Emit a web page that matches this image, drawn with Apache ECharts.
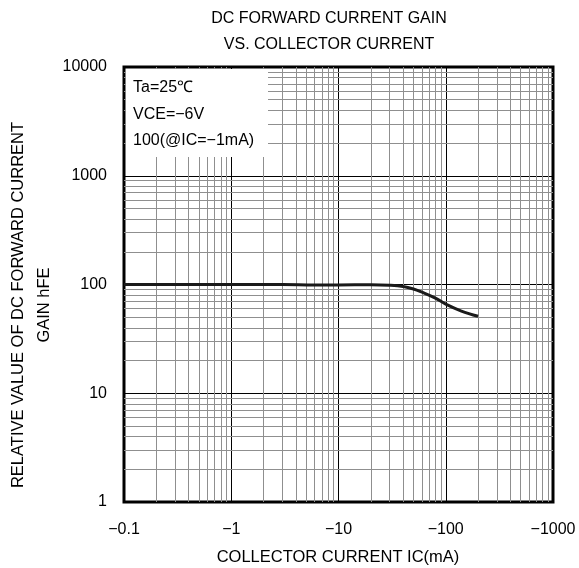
<!DOCTYPE html>
<html>
<head>
<meta charset="utf-8">
<script src="https://cdn.jsdelivr.net/npm/echarts@6/dist/echarts.min.js"></script>
<style>
  html, body { margin: 0; padding: 0; background: #fff; }
  #main { width: 579px; height: 568px; }
</style>
</head>
<body>
<div id="main"></div>
<script>
// collector current (mA, shown as negative) vs hFE
const icValues = [0.1, 0.3, 1, 3, 6, 10, 20, 30, 40, 50, 60, 80, 100, 140, 200];
const hfeValues = [100, 100, 100, 100, 99, 99, 99.5, 98.5, 96, 91, 85, 75, 66, 57, 51];

const xTicks = [0.1, 1, 10, 100, 1000];
const yTicks = [1, 10, 100, 1000, 10000];
const minorSteps = [2, 3, 4, 5, 6, 7, 8, 9];

const noteLines = ['Ta=25\u2103', 'VCE=\u22126V', '100(@IC=\u22121mA)'];

const font = 'Liberation Sans, Arial, sans-serif';

// minor grid lines (2..9 in each decade)
const minorX = [];
xTicks.slice(0, -1).forEach(d => minorSteps.forEach(k => minorX.push({ xAxis: d * k })));
const minorY = [];
yTicks.slice(0, -1).forEach(d => minorSteps.forEach(k => minorY.push({ yAxis: d * k })));

let option = {
  animation: false,
  grid: {
    left: 124, right: 26, top: 67, bottom: 66,
    show: true, borderColor: '#000', borderWidth: 3
  },
  xAxis: {
    type: 'log',
    logBase: 10,
    min: 0.1,
    max: 1000,
    axisLine: { show: false },
    axisTick: { show: false },
    axisLabel: {
      margin: 20,
      color: '#000',
      fontSize: 16,
      fontFamily: font,
      formatter: v => '\u2212' + v
    },
    splitLine: { show: true, lineStyle: { color: '#000', width: 1 } }
  },
  yAxis: {
    type: 'log',
    logBase: 10,
    min: 1,
    max: 10000,
    axisLine: { show: false },
    axisTick: { show: false },
    axisLabel: {
      margin: 17,
      color: '#000',
      fontSize: 16,
      fontFamily: font,
      formatter: v => String(v)
    },
    splitLine: { show: true, lineStyle: { color: '#000', width: 1 } }
  },
  series: [
    {
      type: 'line',
      data: [],
      silent: true,
      markLine: {
        silent: true,
        symbol: 'none',
        label: { show: false },
        lineStyle: { color: '#8f8f8f', width: 1, type: 'solid' },
        data: minorX.concat(minorY),
        z: 1
      }
    },
    {
      name: 'hFE',
      type: 'line',
      data: icValues.map((x, i) => [x, hfeValues[i]]),
      symbol: 'none',
      smooth: 0.4,
      lineStyle: { color: '#1a1a1a', width: 3 },
      z: 10
    }
  ],
  graphic: [
    {
      type: 'text',
      x: 329, y: 19,
      style: { text: 'DC FORWARD CURRENT GAIN', font: '16px ' + font, fill: '#000', align: 'center', verticalAlign: 'middle' }
    },
    {
      type: 'text',
      x: 329, y: 45,
      style: { text: 'VS. COLLECTOR CURRENT', font: '16px ' + font, fill: '#000', align: 'center', verticalAlign: 'middle' }
    },
    {
      type: 'rect',
      shape: { x: 126, y: 69, width: 142, height: 88 },
      style: { fill: '#fff' },
      z: 50
    },
    {
      type: 'text',
      x: 133, y: 88,
      z: 51,
      style: { text: noteLines[0], font: '16px ' + font, fill: '#000', verticalAlign: 'middle' }
    },
    {
      type: 'text',
      x: 133, y: 115,
      z: 51,
      style: { text: noteLines[1], font: '16px ' + font, fill: '#000', verticalAlign: 'middle' }
    },
    {
      type: 'text',
      x: 133, y: 141,
      z: 51,
      style: { text: noteLines[2], font: '16px ' + font, fill: '#000', verticalAlign: 'middle' }
    },
    {
      type: 'text',
      x: 31, y: 305,
      rotation: Math.PI / 2,
      style: {
        text: 'RELATIVE VALUE OF DC FORWARD CURRENT\nGAIN hFE',
        font: '16.5px ' + font, fill: '#000',
        align: 'center', verticalAlign: 'middle', lineHeight: 26
      }
    },
    {
      type: 'text',
      x: 338, y: 557,
      style: { text: 'COLLECTOR CURRENT IC(mA)', font: '16.5px ' + font, fill: '#000', align: 'center', verticalAlign: 'middle' }
    }
  ]
};

let chart = echarts.init(document.getElementById('main'));
chart.setOption(option);
</script>
</body>
</html>
